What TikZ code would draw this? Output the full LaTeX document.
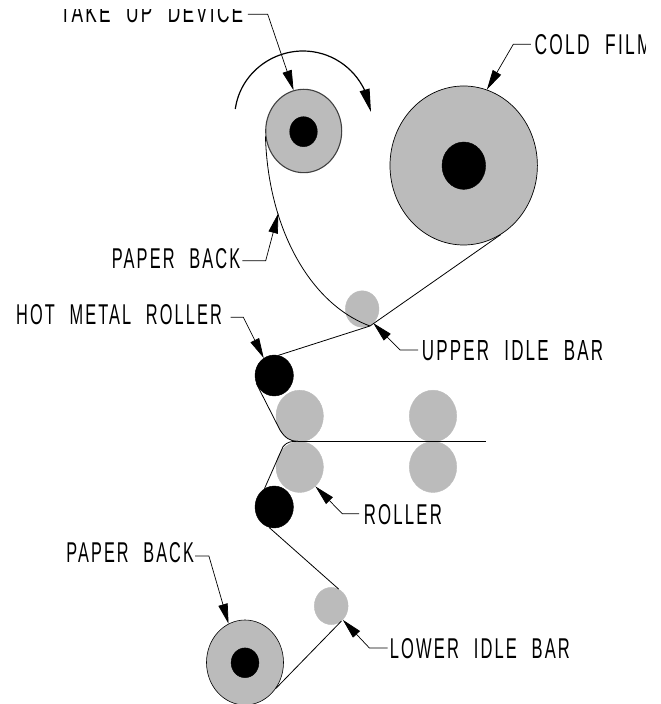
\documentclass[tikz,border=0pt]{standalone}
\usepackage{fontspec}
\usepackage{graphicx}
\usetikzlibrary{shapes.geometric,arrows.meta,bending}
\newfontfamily\labelfont[FakeStretch=0.62,LetterSpace=8,WordSpace=2.2]{Liberation Sans}
\definecolor{rollgray}{HTML}{BBBBBB}
\newcommand{\lbl}[3]{\resizebox{#1pt}{#2pt}{\labelfont #3}}
\tikzset{
  px/.style={x=1pt,y=-1pt,shift={(0pt,704pt)}},
  roll/.style={shape=ellipse,inner sep=0pt,fill=rollgray,draw=rollgray,line width=.4pt},
  hub/.style={shape=ellipse,inner sep=0pt,fill=black,draw=black,line width=.4pt},
  belt/.style={draw=black,line width=.8pt},
  lead/.style={draw=black,line width=.7pt,-{Triangle[length=20pt,width=9.5pt]}},
  txt/.style={inner sep=0pt,anchor=south west,text=black},
}
\begin{document}
\begin{tikzpicture}[px]
\useasboundingbox (0,0) rectangle (661,704);
% rolls
\node[roll,draw=black!75,line width=1.1pt,minimum width=76pt,minimum height=83.4pt] (takeup) at (303.7,131) {};
\node[hub,minimum width=27.6pt,minimum height=30pt] (takeuphub) at (303.5,131.7) {};
\node[roll,draw=black,line width=.7pt,minimum width=147.4pt,minimum height=159pt] (cold) at (463.7,165.5) {};
\node[hub,minimum width=43.6pt,minimum height=47.4pt] (coldhub) at (463.8,165.7) {};
\node[roll,minimum width=33.6pt,minimum height=36.4pt] (upperidle) at (362.2,309) {};
\node[hub,minimum width=38.4pt,minimum height=41pt] (hotone) at (274.2,375.5) {};
\node[roll,minimum width=47.4pt,minimum height=51.6pt] (rolla) at (299.7,416) {};
\node[roll,minimum width=47.4pt,minimum height=51pt] (rollb) at (299.7,467) {};
\node[roll,minimum width=47.4pt,minimum height=51.6pt] (rollc) at (433,416) {};
\node[roll,minimum width=47.4pt,minimum height=51pt] (rolld) at (433,467) {};
\node[hub,minimum width=38.4pt,minimum height=42pt] (hottwo) at (274.2,507) {};
\node[roll,minimum width=33.8pt,minimum height=37.2pt] (loweridle) at (331.2,606) {};
\node[roll,draw=black,line width=.6pt,minimum width=77pt,minimum height=85pt] (lowerroll) at (245,662.5) {};
\node[hub,minimum width=27.8pt,minimum height=29.8pt] (lowerhub) at (245,662.8) {};
% film path points
\coordinate (nip) at (298,441.3);
\coordinate (filmend) at (485.7,441.3);
\coordinate (paperpt) at (278.3,213.3);
\coordinate (idlejoin) at (370,326);
% belts
\draw[belt] (takeup.188) .. controls (268,228) and (310,304) .. (idlejoin);
\draw[belt] (cold.-62) -- (idlejoin) -- (hotone.78);
\draw[belt] (hotone.204) -- (280,430) .. controls (285,438) and (290,441.3) .. (nip);
\draw[belt] (nip) -- (filmend);
\draw[belt] (nip) .. controls (292,441.3) and (287,441.5) .. (283,446.7) -- (hottwo.118);
\draw[belt] (hottwo.-104) -- (loweridle.66);
\draw[belt] (loweridle.-56) -- (lowerroll.-40);
% rotation arrow
\draw[line width=1.2pt,-{Triangle[length=23pt,width=10pt,flex]}] (235.3,109) .. controls (240,75) and (270,51) .. (303,51) .. controls (336,51) and (366,75) .. (371,112);
% labels
\begin{scope}
\clip (0,9.5) rectangle (645,704);
\node[txt] (ltakeup) at (60,23) {\lbl{183}{20}{TAKE UP DEVICE}};
\node[txt] (lcold) at (534.3,55) {\lbl{117}{20}{COLD FILM}};
\end{scope}
\node[txt] (lpaperup) at (111.7,269) {\lbl{128.3}{20}{PAPER BACK}};
\node[txt] (lhot) at (16,325) {\lbl{205.7}{20}{HOT METAL ROLLER}};
\node[txt] (lupper) at (421.7,360.7) {\lbl{181.3}{20}{UPPER IDLE BAR}};
\node[txt] (lroller) at (363.7,525) {\lbl{78}{20}{ROLLER}};
\node[txt] (lpaperlow) at (66.2,562.8) {\lbl{127.5}{20}{PAPER BACK}};
\node[txt] (llower) at (389.7,658.5) {\lbl{180}{20}{LOWER IDLE BAR}};
% leader elbows
\coordinate (etakeup) at (267.7,14.3);
\coordinate (ecold) at (513.3,44.3);
\coordinate (epaperup) at (265.7,260.7);
\coordinate (ehot) at (243.3,317.3);
\coordinate (eupper) at (400,350);
\coordinate (eroller) at (342.4,513.8);
\coordinate (epaperlow) at (208.9,556);
\coordinate (elower) at (369.4,648);
% leaders
\draw[lead] ([xshift=4.5pt]ltakeup.east |- etakeup) -- (etakeup) -- (takeup.104);
\draw[lead] ([xshift=-3.5pt]lcold.west |- ecold) -- (ecold) -- (cold.73);
\draw[lead] ([xshift=2pt]lpaperup.east |- epaperup) -- (epaperup) -- (paperpt);
\draw[lead] ([xshift=8.5pt]lhot.east |- ehot) -- (ehot) -- (hotone.121);
\draw[lead] ([xshift=-3.5pt]lupper.west |- eupper) -- (eupper) -- (upperidle.-52);
\draw[lead] ([xshift=-4.5pt]lroller.west |- eroller) -- (eroller) -- (rollb.-51);
\draw[lead] ([xshift=1pt]lpaperlow.east |- epaperlow) -- (epaperlow) -- (lowerroll.113);
\draw[lead] ([xshift=-2pt]llower.west |- elower) -- (elower) -- (loweridle.-50);
\end{tikzpicture}
\end{document}
